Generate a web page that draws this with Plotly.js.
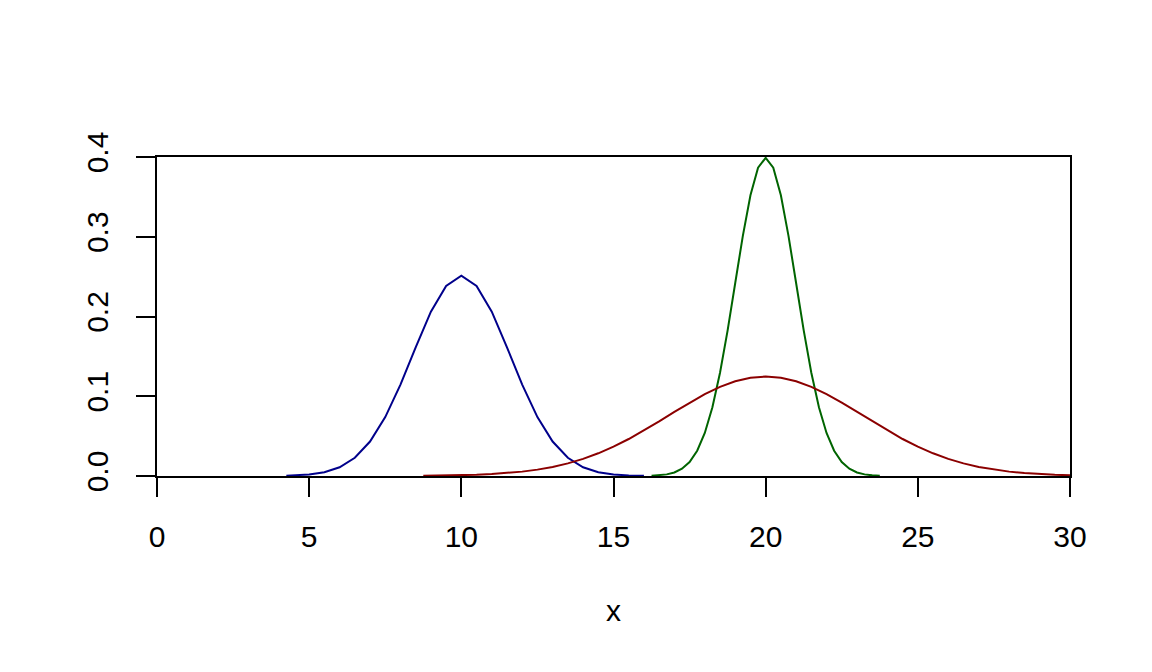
<!DOCTYPE html>
<html>
<head>
<meta charset="utf-8">
<script src="https://cdn.plot.ly/plotly-3.0.1.min.js"></script>
<style>html,body{margin:0;padding:0;background:#fff;}#chart{width:1152px;height:672px;}</style>
</head>
<body>
<div id="chart"></div>
<script>
// Blue curve (centred at 10)
const blueX = [4.25,4.5,5,5.5,6,6.5,7,7.5,8,8.5,9,9.5,10,10.5,11,11.5,12,12.5,13,13.5,14,14.5,15,15.5,16];
const blueY = [0.0004,0.0007,0.0019,0.0048,0.0110,0.0229,0.0432,0.0739,0.1146,0.1614,0.2060,0.2384,0.2512,
               0.2384,0.2060,0.1614,0.1146,0.0739,0.0432,0.0229,0.0110,0.0048,0.0019,0.0007,0.0002];
// Green curve (narrow, centred at 20)
const greenX = [16.25,16.5,16.75,17,17.25,17.5,17.75,18,18.25,18.5,18.75,19,19.25,19.5,19.75,20,
                20.25,20.5,20.75,21,21.25,21.5,21.75,22,22.25,22.5,22.75,23,23.25,23.5,23.75];
const greenY = [0.00035,0.00087,0.00203,0.00443,0.00909,0.01753,0.03174,0.05399,0.08628,0.12952,0.18265,0.24197,0.30114,0.35207,0.38667,0.39894,
                0.38667,0.35207,0.30114,0.24197,0.18265,0.12952,0.08628,0.05399,0.03174,0.01753,0.00909,0.00443,0.00203,0.00087,0.00035];
// Red curve (wide, centred at 20)
const redX = [8.75,9,9.5,10,10.5,11,11.5,12,12.5,13,13.5,14,14.5,15,15.5,16,16.5,17,17.5,18,18.5,19,19.5,20,
              20.5,21,21.5,22,22.5,23,23.5,24,24.5,25,25.5,26,26.5,27,27.5,28,28.5,29,29.5,30];
const redY = [0.00026,0.00034,0.00057,0.00094,0.00152,0.00239,0.00366,0.00548,0.00800,0.01140,0.01585,0.02149,0.02846,0.03678,0.04638,0.05707,0.06856,0.08034,0.09188,0.10255,0.11170,0.11872,0.12316,0.12467,
              0.12316,0.11872,0.11170,0.10255,0.09188,0.08034,0.06856,0.05707,0.04638,0.03678,0.02846,0.02149,0.01585,0.01140,0.00800,0.00548,0.00366,0.00239,0.00152,0.00094];

const xTicks = [0,5,10,15,20,25,30];
const yTicks = [0,0.1,0.2,0.3,0.4];
const yTickText = ["0.0","0.1","0.2","0.3","0.4"];

const font = {family: "Liberation Sans, Arial, sans-serif", size: 30, color: "#000"};

const traces = [
  {x: blueX, y: blueY, type: "scatter", mode: "lines", line: {color: "#00008B", width: 2}, hoverinfo: "skip"},
  {x: greenX, y: greenY, type: "scatter", mode: "lines", line: {color: "#006400", width: 2}, hoverinfo: "skip"},
  {x: redX, y: redY, type: "scatter", mode: "lines", line: {color: "#8B0000", width: 2}, hoverinfo: "skip"}
];

const layout = {
  width: 1152, height: 672,
  margin: {l: 157, r: 82, t: 157, b: 196},
  paper_bgcolor: "#fff", plot_bgcolor: "#fff",
  showlegend: false,
  font: font,
  xaxis: {
    range: [0, 30], tickvals: xTicks, ticktext: xTicks.map(String),
    showgrid: false, zeroline: false,
    showline: true, mirror: true, linecolor: "#000", linewidth: 2,
    ticks: "outside", ticklen: 19, tickwidth: 2, tickcolor: "#000",
    tickfont: font, ticklabelstandoff: 14,
    title: {text: "x", font: font, standoff: 48}
  },
  yaxis: {
    range: [0, 0.4], tickvals: yTicks, ticktext: yTickText,
    showgrid: false, zeroline: false,
    showline: true, mirror: true, linecolor: "#000", linewidth: 2,
    ticks: "outside", ticklen: 19, tickwidth: 2, tickcolor: "#000",
    tickfont: font, tickangle: -90, ticklabelstandoff: 16
  }
};

Plotly.newPlot("chart", traces, layout, {displayModeBar: false, staticPlot: true});
</script>
</body>
</html>
